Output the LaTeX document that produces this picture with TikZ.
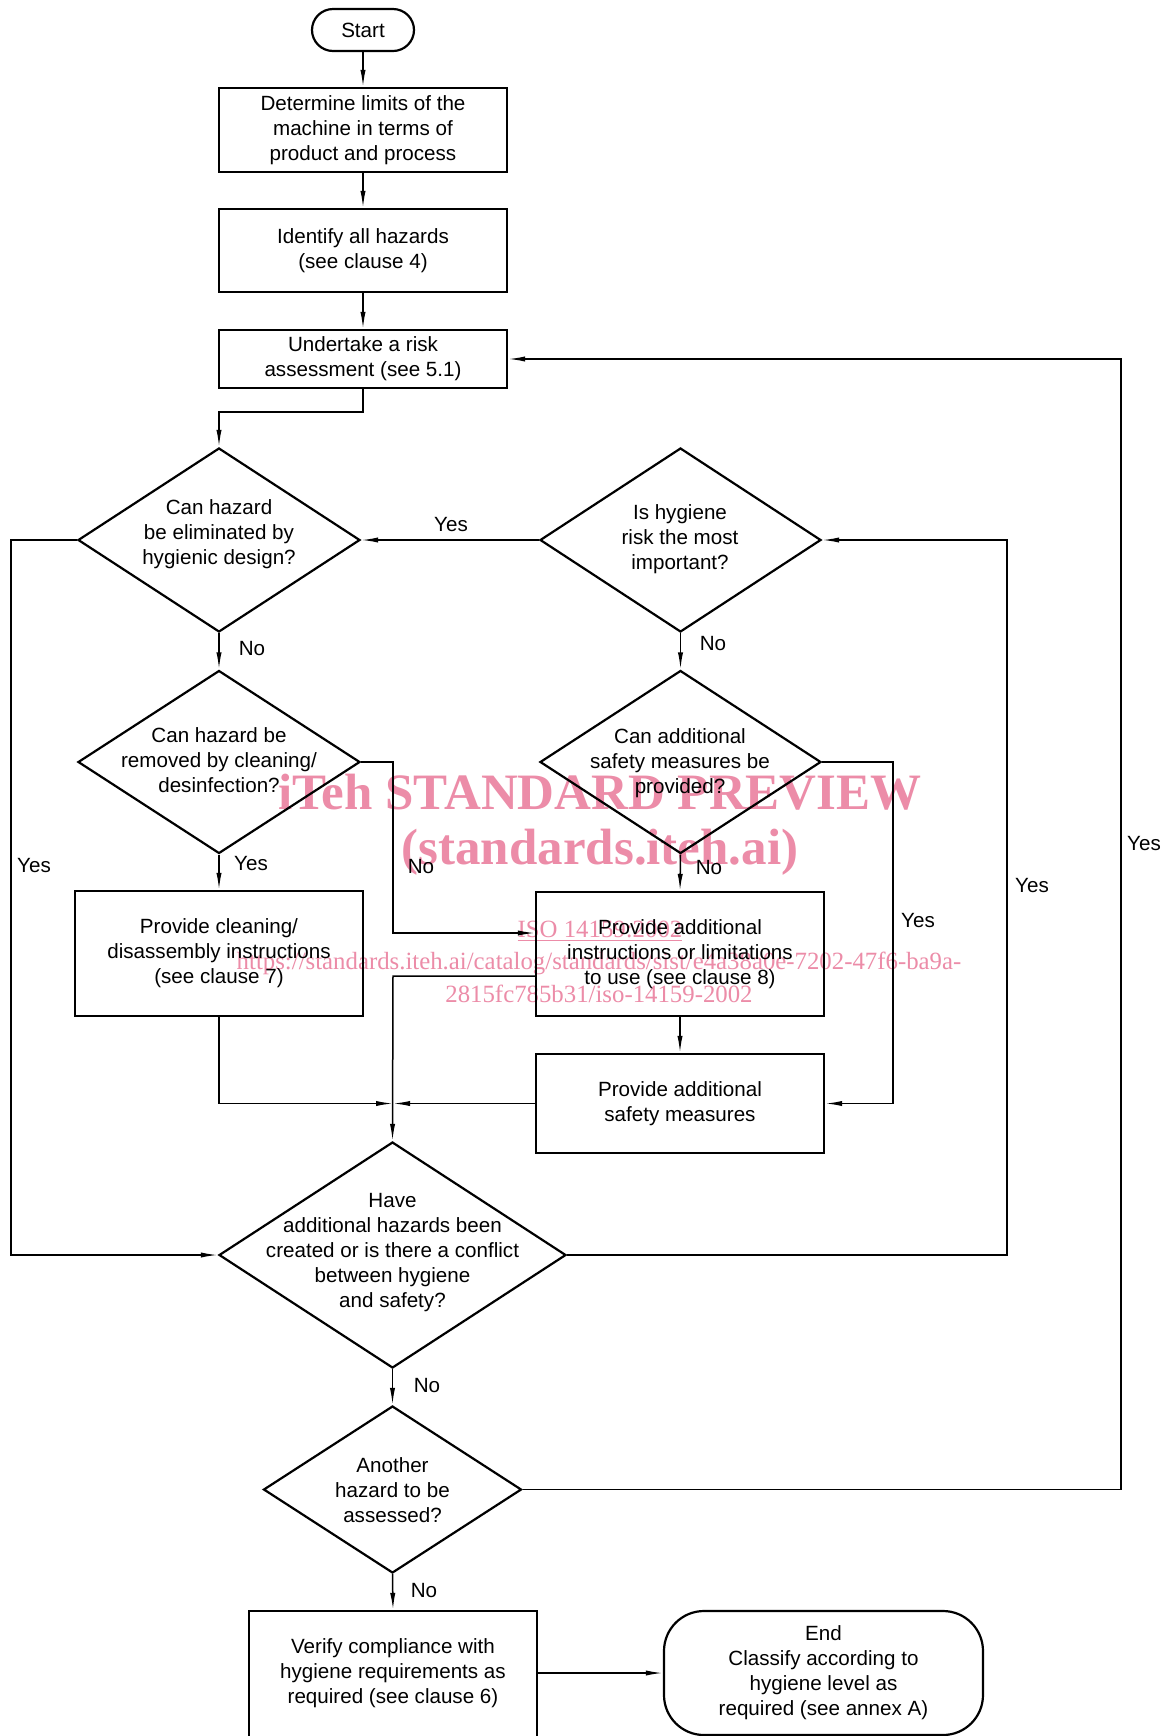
\documentclass[tikz,border=0pt]{standalone}
\usepackage{fontspec}
\setmainfont{Liberation Sans}
\newfontfamily\wmfont{Liberation Serif}
\usetikzlibrary{arrows.meta,shapes.geometric}
\definecolor{wmpink}{RGB}{236,140,168}
\newcommand\txtfont{\fontsize{10.3pt}{12.5pt}\selectfont}
\begin{document}
\begin{tikzpicture}[x=0.5pt,y=-0.5pt,
  box/.style={draw, line width=1.1pt, rectangle, inner sep=0pt, align=center, font=\txtfont},
  dia/.style={draw, diamond, line width=1.1pt, inner sep=0pt},
  lbl/.style={font=\txtfont, inner sep=0pt, align=center},
  arr/.style={line width=0.75pt, -{Latex[length=8.5pt,width=2.6pt]}},
  ln/.style={line width=0.75pt},
  wmbig/.style={text=wmpink, inner sep=0pt, font=\wmfont\bfseries\fontsize{25.5pt}{28pt}\selectfont},
  wmsmall/.style={text=wmpink, inner sep=0pt, font=\wmfont\fontsize{12.4pt}{14pt}\selectfont}]
\useasboundingbox (0,0) rectangle (1168,1736);
\clip (0,0) rectangle (1168,1736);
\fill[white] (0,0) rectangle (1168,1736);

% watermark
\node[wmbig] (wm1) at (600,792) {iTeh STANDARD PREVIEW};
\node[wmbig] (wm2) at (600,852) {(standards.iteh.ai)};
\node[wmsmall] (wm3) at (600,931) {\underline{ISO 14159:2002}};
\node[wmsmall] (wm4) at (599,963) {https://standards.iteh.ai/catalog/standards/sist/e4a38a0e-7202-47f6-ba9a-};
\node[wmsmall] (wm5) at (599,994) {2815fc785b31/iso-14159-2002};

% process boxes
\node[box, rounded corners=10.5pt, minimum width=51pt, minimum height=21pt] (start) at (363,30) {Start};
\node[box, minimum width=144pt, minimum height=42pt] (b1) at (363,130) {Determine limits of the\\machine in terms of\\product and process};
\node[box, minimum width=144pt, minimum height=41.5pt] (b2) at (363,250.5) {Identify all hazards\\(see clause 4)};
\node[box, minimum width=144pt, minimum height=29pt] (b3) at (363,359) {Undertake a risk\\assessment (see 5.1)};

% decisions
\node[dia, minimum width=141pt, minimum height=92pt] (d1) at (219,540) {};
\node[lbl] (d1t) at (219,534) {Can hazard\\be eliminated by\\hygienic design?};
\node[dia, minimum width=140.5pt, minimum height=92pt] (d2) at (680.5,540) {};
\node[lbl] (d2t) at (680,539) {Is hygiene\\risk the most\\important?};
\node[dia, minimum width=141pt, minimum height=91.5pt] (d3) at (219,762) {};
\node[lbl] (d3t) at (219,760) {Can hazard be\\removed by cleaning/\\desinfection?};
\node[dia, minimum width=140.5pt, minimum height=91.5pt] (d4) at (680.5,762) {};
\node[lbl] (d4t) at (680,763) {Can additional\\safety measures be\\provided?};

\node[box, minimum width=144pt, minimum height=62.5pt] (bc) at (219,953.5) {Provide cleaning/\\disassembly instructions\\(see clause 7)};
\node[box, minimum width=144pt, minimum height=62pt] (b4) at (680,954) {Provide additional\\instructions or limitations\\to use (see clause 8)};
\node[box, minimum width=144pt, minimum height=49.5pt] (b5) at (680,1103.5) {Provide additional\\safety measures};

\node[dia, minimum width=173.5pt, minimum height=113pt] (d5) at (392.5,1255) {};
\node[lbl] (d5t) at (392.5,1253) {Have\\additional hazards been\\created or is there a conflict\\between hygiene\\and safety?};
\node[dia, minimum width=129pt, minimum height=83.5pt] (d6) at (392.5,1489.5) {};
\node[lbl] (d6t) at (392.5,1490) {Another\\hazard to be\\assessed?};

\node[box, minimum width=143.75pt, minimum height=67pt] (ver) at (393,1678) {};
\node[lbl] (vert) at (393,1673) {Verify compliance with\\hygiene requirements as\\required (see clause 6)};
\node[box, rounded corners=20pt, minimum width=159.5pt, minimum height=62pt] (endn) at (823.5,1673) {End\\Classify according to\\hygiene level as\\required (see annex A)};

% helper coordinates
\coordinate (L) at (11,0);
\coordinate (m1) at (393,933);
\coordinate (m2) at (393,976);
\coordinate (R1) at (893,0);
\coordinate (R2) at (1007,0);
\coordinate (R3) at (1121,0);

% connectors
\draw[arr] (start) -- (b1);
\draw[arr] (b1) -- (b2);
\draw[arr] (b2) -- (b3);
\draw[arr] (b3.south) -- ++(0,23) -| (d1.north);
\draw[arr] (d2.west) -- (d1.east);
\draw[arr] (d1.west) -| (L |- d5.west) -- (d5.west);
\draw[arr] (d1.south) -- (d3.north);
\draw[arr] (d3.south) -- (bc.north);
\draw[arr] (d3.east) -| (m1) -- (m1 -| b4.west);
\draw[arr] (d2.south) -- (d4.north);
\draw[arr] (d4.south) -- (b4.north);
\draw[arr] (d4.east) -| (R1 |- b5.east) -- (b5.east);
\draw[arr] (b4.south) -- (b5.north);
\draw[arr] (m2 -| b4.west) -- (m2) -- (d5.north);
\draw[arr] (bc.south) |- (m2 |- b5.west);
\draw[arr] (b5.west) -- (m2 |- b5.west);
\draw[arr] (d5.east) -| (R2 |- d2.east) -- (d2.east);
\draw[arr] (d5.south) -- (d6.north);
\draw[arr] (d6.east) -| (R3 |- b3.east) -- (b3.east);
\draw[arr] (d6.south) -- (ver.north);
\draw[arr] (endn.west -| ver.east) -- (endn.west);

% labels
\node[lbl] (l1) at (451,525) {Yes};
\node[lbl] (l2) at (252,649) {No};
\node[lbl] (l3) at (713,644) {No};
\node[lbl] (l4) at (34,865) {Yes};
\node[lbl] (l5) at (251,864) {Yes};
\node[lbl] (l6) at (421,866) {No};
\node[lbl] (l7) at (709,867) {No};
\node[lbl] (l8) at (918,921) {Yes};
\node[lbl] (l9) at (1032,886) {Yes};
\node[lbl] (l10) at (1144,843) {Yes};
\node[lbl] (l11) at (427,1385) {No};
\node[lbl] (l12) at (424,1590) {No};
\end{tikzpicture}
\end{document}
